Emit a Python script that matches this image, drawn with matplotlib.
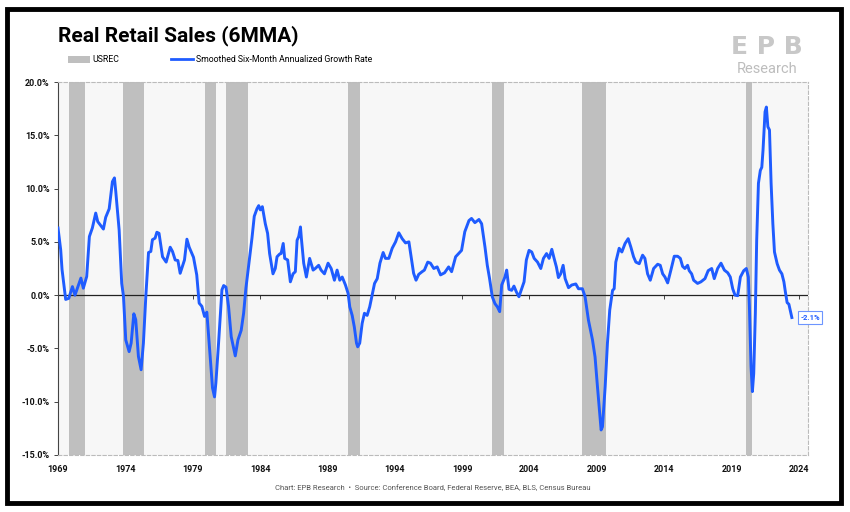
import matplotlib
matplotlib.use("Agg")
import matplotlib.pyplot as plt
from matplotlib.patches import Patch, Rectangle
from matplotlib.lines import Line2D
from matplotlib.ticker import FuncFormatter

plt.rcParams['font.family'] = ['Roboto', 'DejaVu Sans']

# smoothed six-month annualized growth rate (%)
dates = [1969.0, 1969.2, 1969.3, 1969.57, 1969.8, 1970.07, 1970.26, 1970.7, 1970.88, 1971.13,
         1971.33, 1971.55, 1971.8, 1971.95, 1972.37, 1972.54, 1972.8, 1973.04, 1973.19, 1973.29,
         1973.54, 1973.73, 1973.86, 1974.03, 1974.28, 1974.43, 1974.63, 1974.77, 1974.97, 1975.17,
         1975.34, 1975.52, 1975.72, 1975.89, 1976.01, 1976.21, 1976.34, 1976.5, 1976.76, 1977.03,
         1977.33, 1977.5, 1977.7, 1977.9, 1978.07, 1978.39, 1978.57, 1978.74, 1979.06, 1979.3,
         1979.48, 1979.68, 1979.88, 1980.05, 1980.3, 1980.47, 1980.62, 1980.72, 1980.92, 1981.17,
         1981.3, 1981.47, 1981.66, 1981.86, 1982.16, 1982.36, 1982.6, 1982.78, 1982.95, 1983.2,
         1983.4, 1983.57, 1983.77, 1983.9, 1984.02, 1984.17, 1984.39, 1984.56, 1984.71, 1984.96,
         1985.13, 1985.26, 1985.45, 1985.56, 1985.72, 1985.83, 1986.05, 1986.25, 1986.45, 1986.62,
         1986.75, 1986.87, 1987.0, 1987.07, 1987.24, 1987.44, 1987.68, 1987.94, 1988.1, 1988.35,
         1988.53, 1988.78, 1989.05, 1989.28, 1989.52, 1989.72, 1989.92, 1990.1, 1990.34, 1990.54,
         1990.66, 1990.84, 1991.0, 1991.16, 1991.25, 1991.4, 1991.58, 1991.75, 1991.95, 1992.14,
         1992.32, 1992.5, 1992.7, 1992.9, 1993.14, 1993.31, 1993.56, 1993.81, 1994.06, 1994.3,
         1994.55, 1994.8, 1995.05, 1995.2, 1995.4, 1995.58, 1995.78, 1996.03, 1996.2, 1996.45,
         1996.65, 1996.9, 1997.15, 1997.4, 1997.7, 1998.0, 1998.22, 1998.52, 1998.96, 1999.2,
         1999.51, 1999.7, 1999.95, 2000.25, 2000.45, 2000.7, 2000.87, 2001.04, 2001.24, 2001.44,
         2001.62, 2001.79, 2001.94, 2002.18, 2002.31, 2002.48, 2002.68, 2002.85, 2003.03, 2003.22,
         2003.42, 2003.6, 2003.77, 2003.97, 2004.17, 2004.35, 2004.6, 2004.84, 2005.04, 2005.27,
         2005.46, 2005.66, 2005.83, 2006.0, 2006.15, 2006.32, 2006.5, 2006.65, 2006.9, 2007.14,
         2007.44, 2007.64, 2007.93, 2008.13, 2008.38, 2008.68, 2008.87, 2009.05, 2009.22, 2009.32,
         2009.42, 2009.62, 2009.79, 2009.96, 2010.17, 2010.29, 2010.41, 2010.66, 2010.86, 2011.1,
         2011.33, 2011.53, 2011.73, 2011.9, 2012.15, 2012.4, 2012.57, 2012.77, 2012.97, 2013.22,
         2013.52, 2013.71, 2013.89, 2014.06, 2014.26, 2014.5, 2014.75, 2015.0, 2015.2, 2015.37,
         2015.54, 2015.74, 2015.86, 2016.04, 2016.19, 2016.48, 2016.73, 2017.03, 2017.27, 2017.53,
         2017.72, 2017.97, 2018.22, 2018.47, 2018.72, 2018.91, 2019.09, 2019.26, 2019.46, 2019.66,
         2019.91, 2020.1, 2020.25, 2020.33, 2020.45, 2020.55, 2020.65, 2020.77, 2020.87, 2021.0,
         2021.14, 2021.25, 2021.34, 2021.49, 2021.59, 2021.7, 2021.82, 2021.94, 2022.07, 2022.19,
         2022.39, 2022.56, 2022.74, 2022.89, 2023.0, 2023.13, 2023.26, 2023.38, 2023.48]
growth = [6.3, 4.25, 2.4, -0.4, -0.3, 0.8, 0.0, 1.6, 0.65, 1.75,
          5.5, 6.3, 7.7, 6.9, 6.2, 7.3, 8.1, 10.65, 11.0, 9.7,
          6.1, 1.1, -0.1, -4.2, -5.3, -4.5, -1.75, -2.3, -5.75, -7.0,
          -4.5, -0.1, 4.0, 4.1, 5.2, 5.35, 5.9, 5.8, 3.6, 3.1,
          4.5, 4.1, 3.3, 3.25, 2.05, 3.3, 5.25, 4.5, 3.55, 1.9,
          -0.75, -1.05, -2.0, -1.6, -5.75, -8.7, -9.55, -8.25, -4.5, 0.5,
          0.9, 0.75, -1.05, -3.9, -5.7, -4.2, -3.3, -1.7, 0.65, 3.3,
          5.35, 7.4, 8.1, 8.4, 8.0, 8.3, 6.7, 5.8, 3.9, 2.0,
          2.5, 3.6, 3.85, 3.9, 4.85, 3.45, 3.3, 1.25, 2.0, 2.2,
          5.15, 5.5, 6.4, 5.3, 3.0, 1.7, 3.45, 2.35, 2.5, 2.8,
          2.35, 2.0, 3.0, 2.5, 1.4, 2.35, 1.4, 1.7, 0.95, 0.15,
          -1.1, -1.9, -3.0, -4.5, -4.85, -4.5, -2.65, -1.7, -1.9, -1.1,
          0.0, 1.1, 1.55, 3.0, 4.0, 3.45, 3.45, 4.4, 5.0, 5.85,
          5.3, 4.9, 5.0, 3.75, 2.05, 1.4, 1.95, 2.2, 2.35, 3.1,
          3.0, 2.5, 2.65, 1.9, 2.1, 2.65, 2.2, 3.6, 4.2, 5.95,
          7.0, 7.2, 6.8, 7.1, 6.7, 4.5, 2.8, 1.55, -0.15, -0.8,
          -1.1, -1.55, 0.95, 1.7, 2.35, 0.55, 0.45, 0.85, 0.3, -0.15,
          0.6, 1.25, 3.3, 4.2, 4.05, 3.45, 3.1, 2.5, 3.45, 3.9,
          3.45, 4.3, 3.45, 2.65, 1.65, 2.0, 2.8, 1.55, 0.7, 0.95,
          1.05, 0.6, 0.6, -0.15, -2.35, -4.2, -5.8, -8.6, -11.1, -12.65,
          -12.35, -8.6, -4.5, -1.4, 0.45, 0.6, 3.1, 4.4, 4.05, 4.85,
          5.3, 4.5, 3.6, 3.1, 2.95, 3.75, 3.45, 2.0, 1.4, 2.5,
          2.9, 2.8, 2.0, 1.7, 1.15, 2.35, 3.65, 3.65, 3.45, 2.7,
          2.5, 2.8, 2.3, 2.0, 1.4, 1.1, 1.25, 1.55, 2.3, 2.5,
          1.55, 2.5, 3.0, 2.35, 2.1, 1.7, 0.6, 0.0, -0.05, 1.7,
          2.3, 2.5, 1.7, -1.1, -6.7, -9.05, -7.35, -1.7, 5.15, 10.5,
          11.7, 12.0, 13.6, 17.2, 17.65, 15.8, 15.5, 10.5, 6.7, 4.05,
          2.95, 2.35, 2.0, 1.25, 0.3, -0.7, -0.85, -1.55, -2.1]

# USREC shading (start, end) in decimal years
rec_start = [1969.85, 1973.8, 1979.95, 1981.45, 1990.5, 2001.2, 2007.9, 2020.1]
rec_end = [1971.0, 1975.35, 1980.7, 1983.1, 1991.4, 2002.1, 2009.7, 2020.5]

year_ticks = [1969, 1974, 1979, 1984, 1989, 1994, 1999, 2004, 2009, 2014, 2019, 2024]
pct_ticks = [-15, -10, -5, 0, 5, 10, 15, 20]

blue = '#1f5cff'
rec_grey = '#bfbfbf'

fig = plt.figure(figsize=(8.5, 5.12), dpi=100)
fig.patch.set_facecolor('white')

# heavy frame around the whole graphic
fig.patches.append(Rectangle((7 / 850, 9 / 512), 834 / 850, 494 / 512, transform=fig.transFigure,
                             fill=False, edgecolor='black', linewidth=3.5, zorder=10))

ax = fig.add_axes([58 / 850, 1 - 455 / 512, 750 / 850, 373 / 512])
ax.set_facecolor('#f7f7f7')

for s, e in zip(rec_start, rec_end):
    ax.axvspan(s, e, color=rec_grey, lw=0, zorder=1)

ax.axhline(0, color='#222222', lw=0.9, zorder=2)
ax.plot(dates, growth, color=blue, lw=2.1, zorder=3, solid_joinstyle='round')

ax.set_xlim(1969, 1969 + 750 / 13.47)
ax.set_ylim(-15, 20)
ax.set_xticks(year_ticks)
ax.set_yticks(pct_ticks)
ax.yaxis.set_major_formatter(FuncFormatter(lambda v, p: f'{v:.1f}%'))
ax.tick_params(axis='x', length=0, pad=7, labelsize=6.5, colors='#111111')
ax.tick_params(axis='y', length=3, width=0.7, pad=3, labelsize=6.5, colors='#111111',
               color='#444444')
for lbl in ax.get_xticklabels() + ax.get_yticklabels():
    lbl.set_fontweight('bold')

for side in ['top', 'bottom', 'right']:
    ax.spines[side].set_linestyle((0, (3, 2)))
    ax.spines[side].set_color('#bbbbbb')
    ax.spines[side].set_linewidth(0.8)
ax.spines['left'].set_color('#444444')
ax.spines['left'].set_linewidth(0.8)

# small year ticks sitting on the zero line
sec = ax.secondary_xaxis(15 / 35)
sec.set_xticks(year_ticks)
sec.set_xticklabels([])
sec.tick_params(axis='x', direction='out', length=3, width=0.7, color='#444444')
sec.spines['bottom'].set_visible(False)

# last value tag
ax.annotate(f'{growth[-1]:.1f}%', xy=(dates[-1], growth[-1]), xytext=(6, 0),
            textcoords='offset points', ha='left', va='center', fontsize=5.5,
            fontweight='bold', color=blue, annotation_clip=False,
            bbox=dict(boxstyle='square,pad=0.35', fc='white', ec='#6d95ff', lw=0.8))

fig.text(58 / 850, 1 - 36 / 512, 'Real Retail Sales (6MMA)', fontsize=15,
         fontweight='bold', ha='left', va='center', color='black')

handles = [Patch(facecolor=rec_grey, edgecolor='none'),
           Line2D([0], [0], color=blue, lw=2)]
fig.legend(handles, ['USREC', 'Smoothed Six-Month Annualized Growth Rate'],
           loc='center left', bbox_to_anchor=(68 / 850, 1 - 60 / 512), ncol=2,
           frameon=False, fontsize=6.3, handlelength=2.5, handleheight=0.9,
           handletextpad=0.25, columnspacing=6.0, borderaxespad=0, borderpad=0)

# EPB Research mark
fig.text(767 / 850, 1 - 47 / 512, 'E P B', fontsize=18, fontweight='bold',
         color='#c8c8c8', ha='center', va='center', family='DejaVu Sans')
fig.text(767 / 850, 1 - 69 / 512, 'Research', fontsize=10.5, color='#bdbdbd',
         ha='center', va='center')

fig.text(433 / 850, 1 - 488 / 512,
         'Chart: EPB Research  \u2022  Source: Conference Board, Federal Reserve, BEA, BLS, Census Bureau',
         fontsize=5.5, color='#555555', ha='center', va='center')

fig.savefig('out.png', dpi=100, facecolor='white')
